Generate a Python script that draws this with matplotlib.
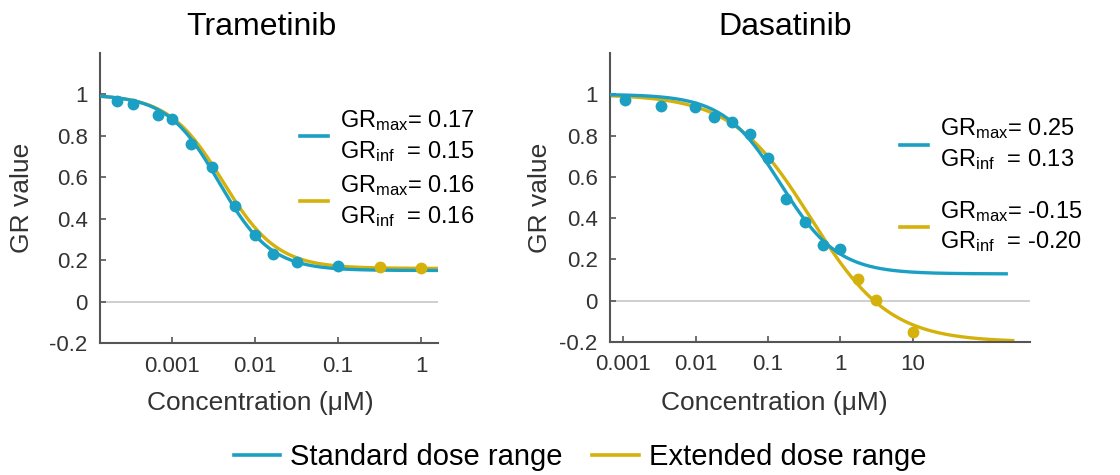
import numpy as np
import matplotlib.pyplot as plt
from matplotlib.lines import Line2D

plt.rcParams['font.family'] = ['Liberation Sans', 'DejaVu Sans']
plt.rcParams['mathtext.fontset'] = 'custom'
plt.rcParams['mathtext.rm'] = 'Liberation Sans'
plt.rcParams['mathtext.it'] = 'Liberation Sans:italic'

BLUE = '#1ba0c3'
GOLD = '#d5b10b'

# Trametinib measured GR values (uM)
tram_std_conc = [2.2e-4, 3.4e-4, 6.8e-4, 1.0e-3, 1.7e-3, 3.0e-3, 5.8e-3, 0.01, 0.0165, 0.032, 0.1]
tram_std_gr = [0.97, 0.955, 0.90, 0.88, 0.76, 0.65, 0.46, 0.32, 0.23, 0.19, 0.17]
tram_ext_conc = [0.32, 1.0]
tram_ext_gr = [0.165, 0.16]

# Dasatinib measured GR values (uM)
dasa_std_conc = [1.08e-3, 3.3e-3, 9.9e-3, 0.018, 0.032, 0.057, 0.10, 0.18, 0.32, 0.58, 1.0]
dasa_std_gr = [0.97, 0.943, 0.938, 0.889, 0.868, 0.808, 0.691, 0.491, 0.382, 0.272, 0.25]
dasa_ext_conc = [1.75, 3.13, 10.0]
dasa_ext_gr = [0.106, 0.003, -0.15]

# fitted curve parameters: GEC50, hill slope, GRinf, GRmax
tram_std_fit = (0.0037, 1.39, 0.15, 0.17)
tram_ext_fit = (0.0041, 1.33, 0.16, 0.16)
dasa_std_fit = (0.15, 1.1, 0.13, 0.25)
dasa_ext_fit = (0.39, 0.8, -0.20, -0.15)


def gr_curve(c, gec50, h, grinf):
    return grinf + (1 - grinf) / (1 + (c / gec50) ** h)


def label(fit):
    return ('GR$_{\\mathrm{max}}$= %.2f\nGR$_{\\mathrm{inf}}$  = %.2f' % (fit[3], fit[2]))


fig = plt.figure(figsize=(11.2, 4.75), dpi=100)
ax1 = fig.add_axes([100 / 1120, 132 / 475, 338 / 1120, 290 / 475])
ax2 = fig.add_axes([610 / 1120, 133 / 475, 420 / 1120, 289 / 475])


def draw(ax, xlim, xticks, xticklabels, std, ext, std_end, ext_end):
    (sc, sg, sfit), (ec, eg, efit) = std, ext
    ax.axhline(0, color='#cccccc', lw=1.3, zorder=0)
    c = np.logspace(np.log10(xlim[0]), np.log10(ext_end), 300)
    ax.plot(c, gr_curve(c, *efit[:3]), color=GOLD, lw=2.4, zorder=2)
    c = np.logspace(np.log10(xlim[0]), np.log10(std_end), 300)
    ax.plot(c, gr_curve(c, *sfit[:3]), color=BLUE, lw=2.4, zorder=3)
    ax.plot(ec, eg, 'o', color=GOLD, ms=7.5, zorder=4)
    ax.plot(sc, sg, 'o', color=BLUE, ms=7.5, zorder=5)
    ax.set_xscale('log')
    ax.set_xlim(xlim)
    ax.set_ylim(-0.2, 1.2)
    ax.set_xticks(xticks)
    ax.set_xticklabels(xticklabels)
    ax.minorticks_off()
    ax.set_yticks([-0.2, 0, 0.2, 0.4, 0.6, 0.8, 1])
    ax.set_yticklabels(['-0.2', '0', '0.2', '0.4', '0.6', '0.8', '1'])
    ax.tick_params(direction='in', length=4, width=1.2, color='#555555',
                   labelsize=16, labelcolor='#333333', pad=9)
    for s in ['top', 'right']:
        ax.spines[s].set_visible(False)
    for s in ['left', 'bottom']:
        ax.spines[s].set_color('#555555')
        ax.spines[s].set_linewidth(1.5)


draw(ax1, (1.36e-4, 1.6), [0.001, 0.01, 0.1, 1], ['0.001', '0.01', '0.1', '1'],
     (tram_std_conc, tram_std_gr, tram_std_fit), (tram_ext_conc, tram_ext_gr, tram_ext_fit),
     1.6, 1.6)
draw(ax2, (6.6e-4, 415), [0.001, 0.01, 0.1, 1, 10], ['0.001', '0.01', '0.1', '1', '10'],
     (dasa_std_conc, dasa_std_gr, dasa_std_fit), (dasa_ext_conc, dasa_ext_gr, dasa_ext_fit),
     195, 240)

# in-plot legends with fitted GR metrics
h_std = Line2D([], [], color=BLUE, lw=2.6)
h_ext = Line2D([], [], color=GOLD, lw=2.6)
leg1 = ax1.legend([h_std, h_ext], [label(tram_std_fit), label(tram_ext_fit)], loc='upper left',
                  bbox_to_anchor=(0.592, 0.81), frameon=False, fontsize=17, handlelength=1.2,
                  handletextpad=0.5, labelspacing=0.37, borderaxespad=0, borderpad=0)
for t in leg1.get_texts():
    t.set_linespacing(1.34)
leg2 = ax2.legend([h_std, h_ext], [label(dasa_std_fit), label(dasa_ext_fit)], loc='upper left',
                  bbox_to_anchor=(0.69, 0.78), frameon=False, fontsize=17, handlelength=1.2,
                  handletextpad=0.5, labelspacing=1.12, borderaxespad=0, borderpad=0)
for t in leg2.get_texts():
    t.set_linespacing(1.31)

# titles and axis labels
fig.text(261 / 1120, 1 - 27 / 475, 'Trametinib', fontsize=23, ha='center', va='center')
fig.text(785 / 1120, 1 - 27 / 475, 'Dasatinib', fontsize=23, ha='center', va='center')
for x in [260, 774]:
    fig.text(x / 1120, 1 - 403 / 475, 'Concentration (\u03bcM)', fontsize=19,
             ha='center', va='center', color='#333333')
for x in [22, 540]:
    fig.text(x / 1120, 1 - 198 / 475, 'GR value', fontsize=19, rotation=90,
             ha='center', va='center', color='#333333')

fig.legend([h_std, h_ext], ['Standard dose range', 'Extended dose range'],
           loc='center', bbox_to_anchor=(580 / 1120, 1 - 457 / 475), ncol=2,
           frameon=False, fontsize=21, handlelength=1.6, handletextpad=0.35,
           columnspacing=1.0)

plt.savefig('out.png', dpi=100)
